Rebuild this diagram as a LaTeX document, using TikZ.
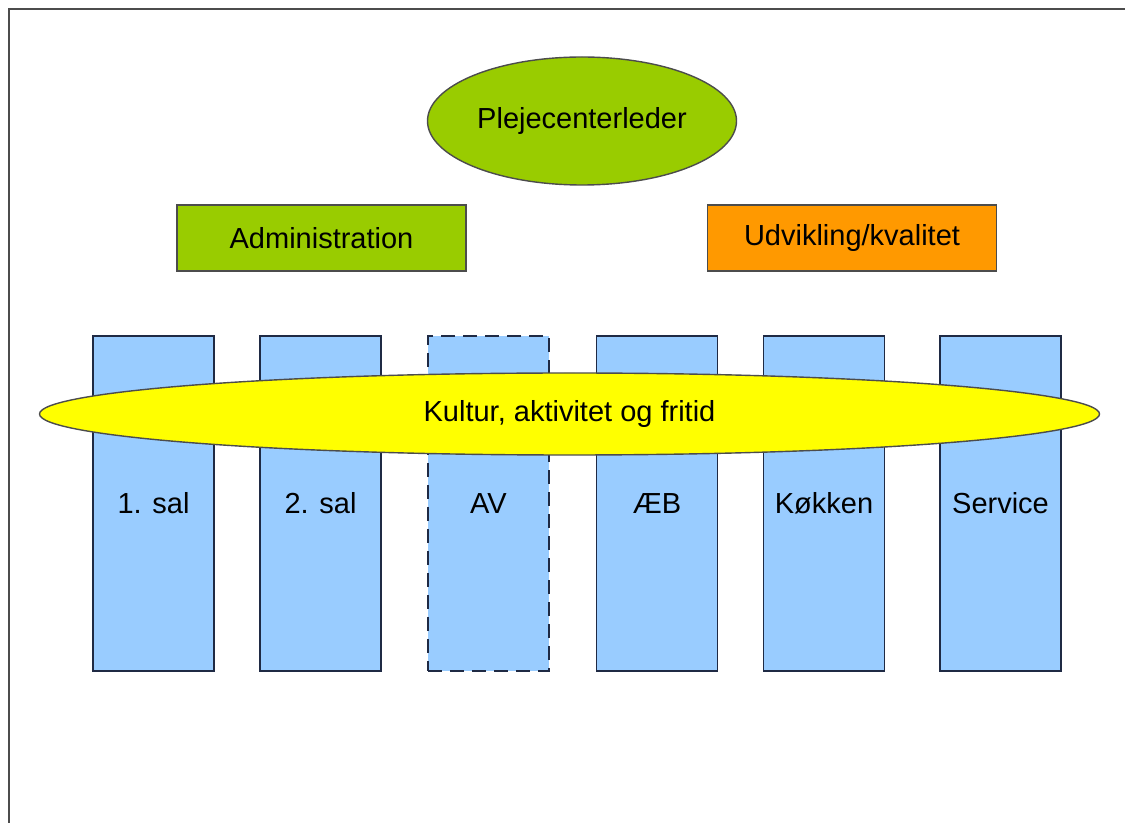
\documentclass[tikz,border=0pt]{standalone}
\usepackage{fontspec}
\setmainfont{Liberation Sans}
\usetikzlibrary{shapes.geometric}

\definecolor{lysblaa}{HTML}{99CCFF}
\definecolor{lysgroen}{HTML}{99CC00}
\definecolor{orange}{HTML}{FF9900}
\definecolor{gul}{HTML}{FFFF00}
\definecolor{kant}{HTML}{1F2A44}

\begin{document}
\begin{tikzpicture}[x=0.5pt,y=-0.5pt]
\tikzstyle{every node}=[font=\fontsize{14.5}{17}\selectfont]
\tikzstyle{afdeling}=[draw=kant, line width=0.7pt, fill=lysblaa, minimum width=60.5pt, minimum height=167.5pt, inner sep=0pt]
\tikzstyle{stab}=[draw=black!70, line width=0.7pt, minimum width=144.5pt, minimum height=33pt, inner sep=0pt]
	\useasboundingbox (0,0) rectangle (1125,823);
	\draw[line width=1pt, black!70] (8.5,823) -- (8.5,9.5) -- (1125,9.5);

	\node[ellipse, draw=black!70, line width=0.7pt, fill=lysgroen, minimum width=154.5pt, minimum height=64pt, inner sep=0pt] (leder) at (582,121) {Plejecenterleder};

	\node[stab, fill=lysgroen] (admin) at (321.5,238) {Administration};
	\node[stab, fill=orange] (udv) at (852,238) {Udvikling/kvalitet};

	\foreach \Navn/\XCoord/\Tekst in {sal1/153.5/1. sal, sal2/320.5/2. sal, aeb/657/ÆB, koekken/824/Køkken, service/1000.5/Service}{
		\node[afdeling] (\Navn) at (\XCoord,503.5) {\Tekst};
	}
	\node[afdeling, dash pattern=on 7pt off 4pt] (av) at (488.5,503.5) {AV};

	\node[ellipse, draw=black!70, line width=0.7pt, fill=gul, minimum width=530pt, minimum height=41pt, inner sep=0pt] (kultur) at (569.5,414) {Kultur, aktivitet og fritid};
\end{tikzpicture}
\end{document}
